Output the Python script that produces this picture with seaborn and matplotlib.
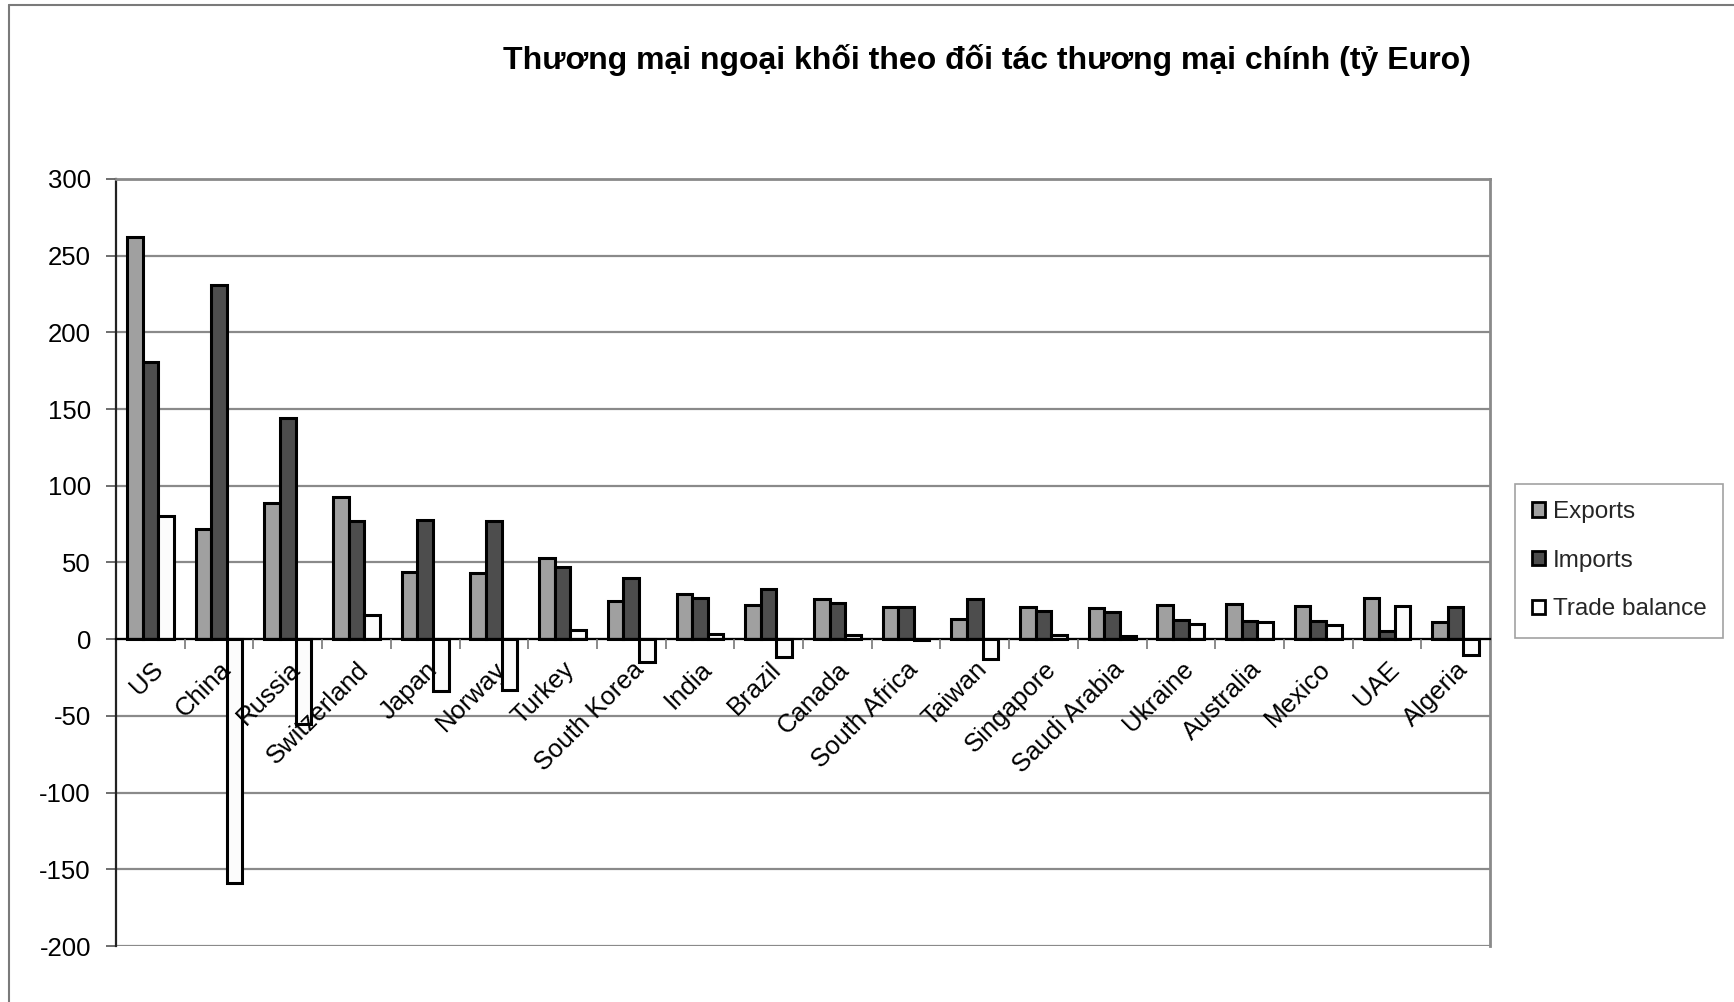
import matplotlib
matplotlib.use("Agg")
import matplotlib.pyplot as plt
import seaborn as sns
import pandas as pd
import numpy as np
from matplotlib.lines import Line2D
from matplotlib.ticker import FixedLocator, MultipleLocator

countries = ["US", "China", "Russia", "Switzerland", "Japan", "Norway", "Turkey",
             "South Korea", "India", "Brazil", "Canada", "South Africa", "Taiwan",
             "Singapore", "Saudi Arabia", "Ukraine", "Australia", "Mexico", "UAE", "Algeria"]
exports = [262, 72, 89, 93, 44, 43, 53, 25, 29.5, 22, 26, 21, 13, 21, 20.5, 22.5, 23, 21.5, 27, 11]
imports = [181, 231, 144, 77, 78, 77, 47, 40, 27, 33, 23.5, 21, 26, 18.5, 18, 12.5, 12, 12, 5.5, 21]
balance = [80.5, -159, -55, 16, -34, -33, 6, -15, 3.5, -11.5, 3, -0.5, -13, 2.5, 2, 10, 11, 9, 21.5, -10]
series_names = ["Exports", "Imports", "Trade balance"]
title = "Thương mại ngoại khối theo đối tác thương mại chính (tỷ Euro)"

df = pd.DataFrame({
    "country": countries * 3,
    "series": [series_names[0]] * len(countries) + [series_names[1]] * len(countries) + [series_names[2]] * len(countries),
    "value": exports + imports + balance,
})

sns.set_theme(style="white")
plt.rcParams["font.family"] = ["Liberation Sans", "DejaVu Sans"]
plt.rcParams["axes.unicode_minus"] = False

fig = plt.figure(figsize=(17.34, 10.02), dpi=100)
ax = fig.add_axes([116 / 1734, 1 - 946 / 1002, (1490 - 116) / 1734, (946 - 179) / 1002])

palette = {"Exports": "#A0A0A0", "Imports": "#4D4D4D", "Trade balance": "#FCFCFC"}
sns.barplot(data=df, x="country", y="value", hue="series", palette=palette,
            width=0.68, edgecolor="black", linewidth=2.2, ax=ax, zorder=3,
            order=countries, hue_order=series_names)

ax.set_ylim(-200, 300)
ax.set_xlim(-0.5, len(countries) - 0.5)
ax.yaxis.set_major_locator(MultipleLocator(50))
ax.set_xlabel("")
ax.set_ylabel("")

# grid
ax.yaxis.grid(True, color="#8A8A8A", linewidth=1.6, zorder=0)
ax.xaxis.grid(False)
ax.set_axisbelow(True)

for s in ["top", "right"]:
    ax.spines[s].set_color("#8A8A8A")
    ax.spines[s].set_linewidth(2.0)
ax.spines["left"].set_color("#222222")
ax.spines["left"].set_linewidth(1.6)
ax.spines["bottom"].set_position(("data", 0))
ax.spines["bottom"].set_color("black")
ax.spines["bottom"].set_linewidth(1.6)
ax.spines["bottom"].set_zorder(4)

ax.tick_params(axis="y", which="major", direction="out", length=7, width=1.2,
               color="#555555", labelsize=18.5, pad=11, left=True)
ax.tick_params(axis="x", which="major", length=0, labelsize=18.5, pad=13)
ax.xaxis.set_minor_locator(FixedLocator(np.arange(0.5, len(countries) - 0.5, 1)))
ax.tick_params(axis="x", which="minor", direction="out", length=7, width=1.2,
               color="#777777", bottom=True)
ax.xaxis.set_zorder(6)

for lbl in ax.get_xticklabels():
    lbl.set_rotation(45)
    lbl.set_ha("right")
    lbl.set_va("top")
    lbl.set_rotation_mode("anchor")
    lbl.set_color("black")
for lbl in ax.get_yticklabels():
    lbl.set_color("black")

# bottom gridline at -200
ax.axhline(-200, color="#8A8A8A", linewidth=2.0, zorder=1)

leg = ax.legend(loc="upper left", bbox_to_anchor=(1515 / 1734, 1 - 484 / 1002),
                bbox_transform=fig.transFigure, fontsize=17.5, frameon=True,
                fancybox=False, edgecolor="#8A8A8A", handlelength=0.55, handleheight=0.55,
                handletextpad=0.3, labelspacing=1.1, borderpad=0.7, borderaxespad=0)
leg.get_frame().set_linewidth(1.2)
for h in leg.legend_handles:
    h.set_edgecolor("black")
    h.set_linewidth(2)

fig.text(987 / 1734, 1 - 60 / 1002, title, ha="center", va="center",
         fontsize=23, fontweight="bold", color="black")

# chart area border (top and left visible)
fig.add_artist(Line2D([9 / 1734, 1.0], [1 - 5 / 1002, 1 - 5 / 1002], color="#7A7A7A", linewidth=1.5))
fig.add_artist(Line2D([9 / 1734, 9 / 1734], [0.0, 1 - 5 / 1002], color="#7A7A7A", linewidth=1.5))

fig.savefig("out.png", dpi=100, facecolor="white")
